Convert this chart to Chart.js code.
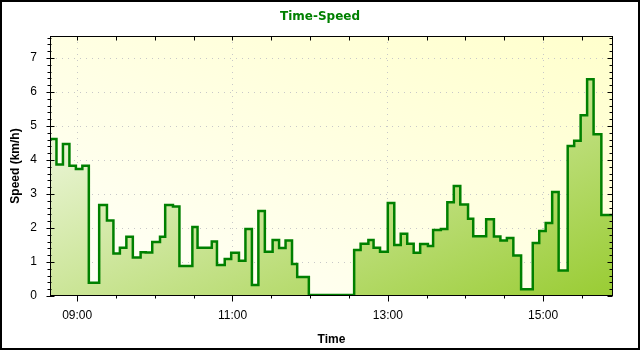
<!DOCTYPE html>
<html>
<head>
<meta charset="utf-8">
<title>Time-Speed</title>
<script src="https://cdn.jsdelivr.net/npm/chart.js@4.4.1/dist/chart.umd.min.js"></script>
<style>
  html, body { margin: 0; padding: 0; background: #fff; }
  #wrap { width: 640px; height: 350px; }
</style>
</head>
<body>
<div id="wrap"><canvas id="chart"></canvas></div>
<script>
// each step starts at stepTimes[i] and holds speeds[i] until the next one
const stepTimes = [
    '08:39', '08:44', '08:49', '08:54', '08:59', '09:04', '09:09', '09:17', '09:23', '09:28',
    '09:33', '09:38', '09:43', '09:49', '09:53', '09:58', '10:04', '10:08', '10:14', '10:19',
    '10:29', '10:33', '10:44', '10:48', '10:54', '10:59', '11:05', '11:10', '11:15', '11:20',
    '11:25', '11:31', '11:36', '11:41', '11:46', '11:50', '11:59', '12:34', '12:39', '12:45',
    '12:49', '12:54', '13:00', '13:05', '13:10', '13:15', '13:20', '13:25', '13:31', '13:35',
    '13:41', '13:46', '13:51', '13:56', '14:02', '14:06', '14:16', '14:22', '14:27', '14:32',
    '14:37', '14:43', '14:52', '14:57', '15:02', '15:07', '15:12', '15:19', '15:24', '15:29',
    '15:34', '15:39', '15:45', '15:54',
];
const speeds = [
    4.62, 3.87, 4.47, 3.83, 3.74, 3.83, 0.39, 2.68, 2.22, 1.25,
    1.42, 1.74, 1.13, 1.29, 1.28, 1.59, 1.74, 2.68, 2.63, 0.88,
    2.03, 1.42, 1.60, 0.91, 1.09, 1.27, 1.04, 1.97, 0.32, 2.50,
    1.30, 1.65, 1.41, 1.63, 0.94, 0.56, 0.03, 1.35, 1.54, 1.65,
    1.42, 1.30, 2.74, 1.50, 1.83, 1.54, 1.27, 1.53, 1.47, 1.94,
    1.97, 2.76, 3.24, 2.69, 2.27, 1.76, 2.26, 1.75, 1.63, 1.71,
    1.19, 0.20, 1.56, 1.91, 2.15, 3.06, 0.75, 4.41, 4.57, 5.32,
    6.38, 4.76, 2.38, 2.38,
];
const timeLabels = ['09:00', '11:00', '13:00', '15:00'];
const speedTicks = [0, 1, 2, 3, 4, 5, 6, 7];
const timeRange = ['08:39', '15:54'];
const speedMax = 7.65;

const FONT = "'Liberation Sans', Arial, sans-serif";
const GRID = '#c8c8c8';

function toMinutes(s) {
    const [h, m] = s.split(':').map(Number);
    return h * 60 + m;
}

const labelMinutes = timeLabels.map(toMinutes);

// diagonal gradient spanning the chart area corner to corner
function diagGradient(ctx, a, c0, c1, upward) {
    const w = a.right - a.left, h = a.bottom - a.top;
    const cx = (a.left + a.right) / 2, cy = (a.top + a.bottom) / 2;
    const k = w * h / (w * w + h * h);
    const dx = h * k, dy = w * k;
    const g = upward
        ? ctx.createLinearGradient(cx - dx, cy + dy, cx + dx, cy - dy)
        : ctx.createLinearGradient(cx - dx, cy - dy, cx + dx, cy + dy);
    g.addColorStop(0, c0);
    g.addColorStop(1, c1);
    return g;
}

const framePlugin = {
    id: 'frame',
    beforeDraw(chart) {
        const { ctx, chartArea: a } = chart;
        ctx.save();
        ctx.fillStyle = '#fff';
        ctx.fillRect(0, 0, chart.width, chart.height);
        ctx.fillStyle = diagGradient(ctx, a, '#fffffa', '#ffffcc', true);
        ctx.fillRect(a.left, a.top, a.right - a.left, a.bottom - a.top);
        ctx.restore();
    },
    afterDraw(chart) {
        const { ctx, chartArea: a, scales: { x, y } } = chart;
        const L = Math.round(a.left) + 0.5, R = Math.round(a.right) - 0.5;
        const T = Math.round(a.top) + 0.5, B = Math.round(a.bottom) - 0.5;
        ctx.save();
        ctx.strokeStyle = '#000';
        ctx.lineWidth = 1;
        ctx.strokeRect(L, T, R - L, B - T);

        ctx.beginPath();
        for (let i = 0; i * 0.2 <= speedMax + 1e-9; i++) {
            const py = Math.round(y.getPixelForValue(i * 0.2)) + 0.5;
            const major = i % 5 === 0;
            ctx.moveTo(L - (major ? 4 : 3), py);
            ctx.lineTo(L + (major ? 4 : 1), py);
            ctx.moveTo(R, py);
            ctx.lineTo(R - (major ? 5 : 3), py);
        }
        for (let m = Math.ceil(x.min / 30) * 30; m <= x.max; m += 30) {
            const px = Math.round(x.getPixelForValue(m)) + 0.5;
            const major = labelMinutes.includes(m);
            ctx.moveTo(px, B);
            ctx.lineTo(px, B + (major ? 6 : 3));
            ctx.moveTo(px, T);
            ctx.lineTo(px, T + 4);
        }
        ctx.stroke();

        ctx.lineWidth = 2;
        ctx.strokeRect(1, 1, chart.width - 2, chart.height - 2);
        ctx.restore();
    },
};

const points = stepTimes.map((t, i) => ({ x: toMinutes(t), y: speeds[i] }));

new Chart(document.getElementById('chart'), {
    type: 'line',
    data: {
        datasets: [{
            label: 'Speed',
            data: points,
            stepped: true,
            fill: 'origin',
            borderColor: '#008000',
            borderWidth: 2.5,
            pointRadius: 0,
            backgroundColor(c) {
                const a = c.chart.chartArea;
                if (!a) return '#c8e39a';
                return diagGradient(c.chart.ctx, a, '#ffffff', '#99cc33', false);
            },
        }],
    },
    options: {
        responsive: true,
        maintainAspectRatio: false,
        animation: false,
        devicePixelRatio: 1,
        layout: { padding: 0 },
        plugins: {
            legend: { display: false },
            tooltip: { enabled: false },
            title: {
                display: true,
                text: 'Time-Speed',
                color: '#008000',
                font: { family: "'DejaVu Sans', Verdana, sans-serif", size: 12, weight: 'bold' },
                padding: { top: 10, bottom: 11.6 },
            },
        },
        scales: {
            x: {
                type: 'linear',
                min: toMinutes(timeRange[0]),
                max: toMinutes(timeRange[1]),
                afterFit(s) { s.height = 54; },
                border: { display: false, dash: [1, 5] },
                grid: {
                    drawTicks: false,
                    lineWidth: 1,
                    color: c => (c.tick && labelMinutes.includes(c.tick.value)) ? GRID : 'transparent',
                },
                ticks: {
                    stepSize: 30,
                    includeBounds: false,
                    autoSkip: false,
                    maxRotation: 0,
                    minRotation: 0,
                    padding: 12,
                    color: '#000',
                    font: { family: FONT, size: 12 },
                    callback(v) {
                        const i = labelMinutes.indexOf(v);
                        return i >= 0 ? timeLabels[i] : '';
                    },
                },
                title: {
                    display: true,
                    text: 'Time',
                    color: '#000',
                    font: { family: FONT, size: 12, weight: 'bold' },
                    padding: { top: 0, bottom: 3 },
                },
            },
            y: {
                min: 0,
                max: speedMax,
                afterFit(s) { s.width = 50; },
                border: { display: false, dash: [1, 5] },
                grid: {
                    drawTicks: false,
                    lineWidth: 1,
                    color: c => (c.tick && c.tick.value > 0) ? GRID : 'transparent',
                },
                ticks: {
                    stepSize: 1,
                    includeBounds: false,
                    padding: 13,
                    color: '#000',
                    font: { family: FONT, size: 12 },
                    callback(v) {
                        return speedTicks.includes(v) ? String(v) : '';
                    },
                },
                title: {
                    display: true,
                    text: 'Speed (km/h)',
                    color: '#000',
                    font: { family: FONT, size: 12, weight: 'bold' },
                    padding: { top: 8.5, bottom: 0 },
                },
            },
            // empty right-hand margin so the title centres on the whole canvas
            yRight: {
                position: 'right',
                min: 0,
                max: speedMax,
                afterFit(s) { s.width = 27; },
                border: { display: false },
                grid: { display: false },
                ticks: { display: false },
            },
        },
    },
    plugins: [framePlugin],
});
</script>
</body>
</html>
